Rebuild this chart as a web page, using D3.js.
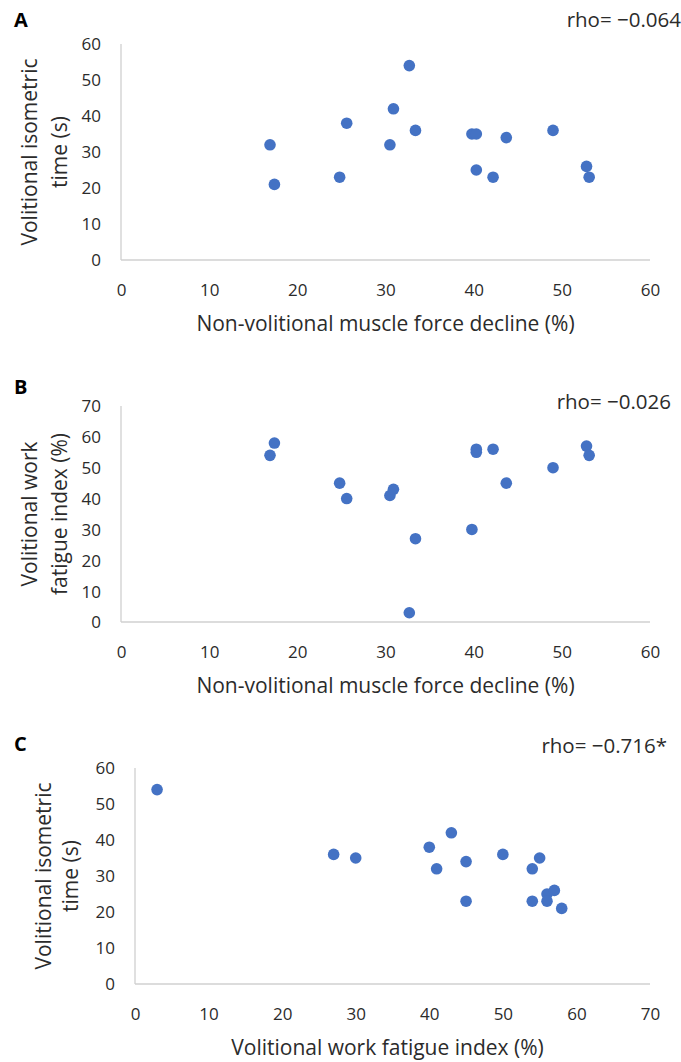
<!DOCTYPE html>
<html><head><meta charset="utf-8">
<script src="https://cdn.jsdelivr.net/npm/d3@7"></script>
<style>
html,body{margin:0;padding:0;background:#fff;}
text{font-family:"Open Sans","Noto Sans",sans-serif;fill:#2b2b2b;}
</style></head>
<body><svg id="chart" width="681" height="1062"></svg>
<script>
// Data (one entry per subject)
const forceDecline   = [16.9,17.4,24.8,25.6,30.5,30.9,32.7,33.4,39.8,40.3,40.3,42.2,43.7,49.0,52.8,53.1];
const isometricTime  = [32,21,23,38,32,42,54,36,35,35,25,23,34,36,26,23];
const fatigueIndex   = [54,58,45,40,41,43,3,27,30,55,56,56,45,50,57,54];

const panelLetters = ["A","B","C"];
const rhoLabels = ["rho= \u22120.064","rho= \u22120.026","rho= \u22120.716*"];
const xTitles = ["Non-volitional muscle force decline (%)","Non-volitional muscle force decline (%)","Volitional work fatigue index (%)"];
const yTitles = [["Volitional isometric","time (s)"],["Volitional work","fatigue index (%)"],["Volitional isometric","time (s)"]];
const xTicks = [[0,10,20,30,40,50,60],[0,10,20,30,40,50,60],[0,10,20,30,40,50,60,70]];
const yTicks = [[0,10,20,30,40,50,60],[0,10,20,30,40,50,60,70],[0,10,20,30,40,50,60]];
const xSeries = [forceDecline, forceDecline, fatigueIndex];
const ySeries = [isometricTime, fatigueIndex, isometricTime];

const svg = d3.select("#chart");
const layouts = [
  {x0:121, x1:650, y0:260, y1:44,  xd:[0,60], yd:[0,60], yt1:30, yt2:60},
  {x0:121, x1:650, y0:622, y1:406, xd:[0,60], yd:[0,70], yt1:30, yt2:60},
  {x0:135, x1:650, y0:984, y1:768, xd:[0,70], yd:[0,60], yt1:44, yt2:71}
];
const rhoPos = [{x:681,y:20},{x:671,y:402},{x:667,y:746}];
const letterY = [20,387,744];
const FF = '"Open Sans","Noto Sans",sans-serif';

layouts.forEach((L,i)=>{
  const g = svg.append("g");
  const x = d3.scaleLinear().domain(L.xd).range([L.x0,L.x1]);
  const y = d3.scaleLinear().domain(L.yd).range([L.y0,L.y1]);

  // axes lines
  g.append("line").attr("x1",L.x0).attr("x2",L.x0).attr("y1",y(L.yd[1])).attr("y2",L.y0)
    .attr("stroke","#d0d0d0").attr("stroke-width",1.3);
  g.append("line").attr("x1",L.x0).attr("x2",x(L.xd[1])).attr("y1",L.y0).attr("y2",L.y0)
    .attr("stroke","#d0d0d0").attr("stroke-width",1.3);

  const fs = 17;
  // tick labels
  const xa = d3.axisBottom(x).tickValues(xTicks[i]).tickSize(0).tickPadding(0);
  const gx = g.append("g").attr("transform",`translate(0,${L.y0+30})`).call(xa);
  gx.select(".domain").remove();
  gx.selectAll("text").attr("y",0).attr("dy","0.35em");

  const ya = d3.axisLeft(y).tickValues(yTicks[i]).tickSize(0).tickPadding(0);
  const gy = g.append("g").attr("transform",`translate(${L.x0-20},0)`).call(ya);
  gy.select(".domain").remove();
  gy.selectAll("text").attr("x",0).attr("dy","0.35em");

  [gx,gy].forEach(a=>{
    a.attr("font-family",null).attr("font-size",null);
    a.selectAll("text").style("font-family",FF).style("font-size",fs+"px").attr("fill","#2b2b2b");
  });

  // x title
  g.append("text").attr("x",(L.x0+L.x1)/2 + (i===2?-5:0)).attr("y",L.y0+64).attr("dy","0.35em")
    .attr("text-anchor","middle").style("font-size","21px").text(xTitles[i]);
  // y title
  const cy = (L.y0+L.y1)/2;
  g.append("text").attr("transform",`translate(${L.yt1},${cy}) rotate(-90)`).attr("dy","0.35em")
    .attr("text-anchor","middle").style("font-size","21px").text(yTitles[i][0]);
  g.append("text").attr("transform",`translate(${L.yt2},${cy}) rotate(-90)`).attr("dy","0.35em")
    .attr("text-anchor","middle").style("font-size","21px").text(yTitles[i][1]);

  // panel letter
  g.append("text").attr("x",14).attr("y",letterY[i]).attr("dy","0.35em").style("font-size","20px").style("font-weight","bold")
    .style("fill","#000").text(panelLetters[i]);
  // rho
  g.append("text").attr("x",rhoPos[i].x).attr("y",rhoPos[i].y).attr("dy","0.35em").attr("text-anchor","end")
    .style("font-size","20.5px").text(rhoLabels[i]);

  // points
  g.selectAll("circle").data(xSeries[i].map((v,k)=>[v,ySeries[i][k]])).join("circle")
    .attr("cx",d=>x(d[0])).attr("cy",d=>y(d[1])).attr("r",5.8).attr("fill","#4472C4");
});
</script></body></html>
